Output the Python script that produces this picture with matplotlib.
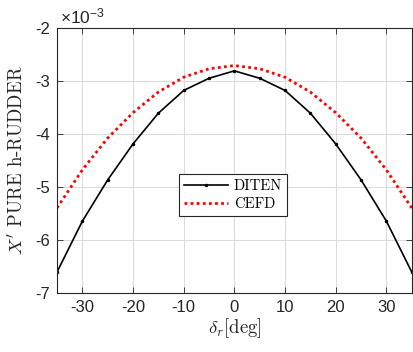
import matplotlib
matplotlib.use("Agg")
import matplotlib.pyplot as plt

# rudder angle [deg]
delta = [-35, -30, -25, -20, -15, -10, -5, 0, 5, 10, 15, 20, 25, 30, 35]

# values in units of 1e-3
diten = [-6.61, -5.65, -4.87, -4.19, -3.61, -3.18, -2.95, -2.81,
         -2.95, -3.18, -3.61, -4.19, -4.87, -5.65, -6.61]
cefd = [-5.40, -4.68, -4.08, -3.60, -3.21, -2.93, -2.77, -2.71,
        -2.77, -2.93, -3.21, -3.60, -4.08, -4.68, -5.40]

xticks = [-30, -20, -10, 0, 10, 20, 30]
yticks = [-7, -6, -5, -4, -3, -2]

plt.rcParams['font.family'] = ['Liberation Sans', 'DejaVu Sans']
plt.rcParams['mathtext.fontset'] = 'cm'
plt.rcParams['axes.unicode_minus'] = False

fig = plt.figure(figsize=(4.13, 3.52), dpi=100)
ax = fig.add_axes([0.138, 0.1685, 0.859, 0.752])

ax.plot(delta, diten, color='black', lw=1.2, marker='.', ms=3, label='DITEN')
ax.plot(delta, cefd, color='red', lw=2.0, ls=(0, (1, 1.2)), label='CEFD')

ax.set_xlim(-35, 35)
ax.set_ylim(-7, -2)
ax.set_xticks(xticks)
ax.set_yticks(yticks)
ax.grid(True, color='#dcdcdc', lw=0.8)
ax.set_axisbelow(True)
ax.tick_params(direction='in', top=True, right=True, labelsize=12,
               labelcolor='#262626', color='#262626', length=4, width=0.6, pad=5)
for s in ax.spines.values():
    s.set_color('#262626')
    s.set_linewidth(0.8)

ax.set_xlabel(r"$\delta_r$[deg]", fontsize=13.5, fontfamily='cmr10', color='#262626', labelpad=1)
ax.set_ylabel(r"$X'$ PURE h-RUDDER", fontsize=13.5, fontfamily='cmr10', color='#262626', labelpad=6)
ax.text(0.008, 1.005, r"$\mathregular{\times10^{-3}}$", transform=ax.transAxes, fontsize=12.5,
        ha='left', va='bottom', color='#262626')

leg = ax.legend(loc='center', bbox_to_anchor=(0.496, 0.368), fancybox=False,
                edgecolor='#262626', framealpha=1, borderpad=0.35,
                handlelength=3.0, handletextpad=0.4, labelspacing=0.3,
                prop={'family': 'cmr10', 'size': 10.5})
leg.get_frame().set_linewidth(0.8)

fig.savefig('out.png', dpi=100)
